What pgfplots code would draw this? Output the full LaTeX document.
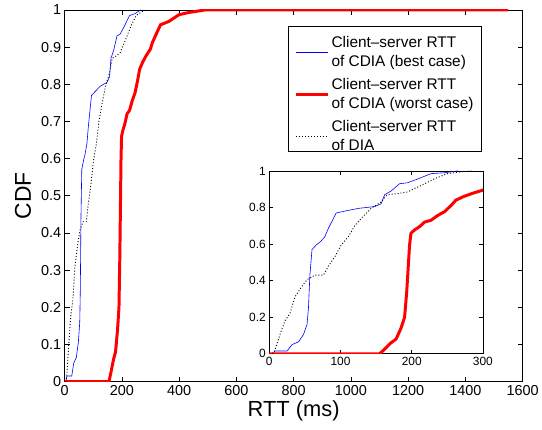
\documentclass[border=0pt]{standalone}
\usepackage{fontspec}
\setmainfont{Liberation Sans}
\usepackage{pgfplots}
\usepackage{pgfplotstable}
\pgfplotsset{compat=1.18}

\pgfplotstableread{
x y
0 0
5 0
8 0.015
25 0.015
32 0.05
41 0.065
48 0.105
53 0.16
55 0.25
57 0.43
60 0.57
66 0.595
71 0.61
78 0.64
83 0.686
90 0.74
94 0.77
106 0.78
125 0.795
148 0.805
157 0.82
162 0.87
171 0.89
183 0.93
194 0.935
208 0.955
227 0.985
246 0.99
265 1.0
}\bluedata

\pgfplotstableread{
x y
0 0
155 0
162 0.025
171 0.06
178 0.08
185 0.14
190 0.2
193 0.34
197 0.595
199 0.66
204 0.677
211 0.695
218 0.72
227 0.73
236 0.755
246 0.777
255 0.81
262 0.84
273 0.86
285 0.877
300 0.895
306 0.911
320 0.935
335 0.96
364 0.969
399 0.987
433 0.993
491 1.0
1550 1.0
}\reddata

\pgfplotstableread{
x y
4 0
8 0.02
15 0.105
22 0.18
29 0.22
36 0.31
46 0.37
53 0.405
64 0.43
76 0.43
83 0.48
92 0.53
101 0.595
111 0.64
120 0.70
129 0.74
143 0.795
157 0.83
166 0.87
180 0.876
194 0.885
213 0.92
232 0.957
250 0.985
269 0.995
285 1.0
}\diadata

\pgfplotsset{
  myax/.style={
    scale only axis,
    axis line style={black, line width=0.7pt},
    tick align=inside,
    tick style={black, line width=0.6pt},
    major tick length=5bp,
    /pgf/number format/assume math mode=true,
    /pgf/number format/1000 sep={},
    ymin=0, ymax=1,
  },
  bluestyle/.style={blue, line width=0.6bp},
  redstyle/.style={red, line width=3bp},
  diastyle/.style={black, line width=0.9bp, dash pattern=on 1bp off 2bp},
}

\begin{document}
\begin{tikzpicture}
\path (-65bp,-48bp) rectangle (477bp,384bp);
\begin{axis}[
  myax,
  width=461bp, height=374bp,
  xmin=0, xmax=1600,
  xtick={0,200,400,600,800,1000,1200,1400,1600},
  ytick={0,0.1,0.2,0.3,0.4,0.5,0.6,0.7,0.8,0.9,1},
  tick label style={font=\fontsize{14.5bp}{16bp}\selectfont},
  xlabel={RTT (ms)},
  ylabel={CDF},
  xlabel style={font=\fontsize{22bp}{24bp}\selectfont, at={(axis description cs:0.5,-0.080)}, anchor=center},
  ylabel style={font=\fontsize{23bp}{25bp}\selectfont, at={(axis description cs:-0.0905,0.5)}, anchor=center},
  legend cell align=left,
  legend image code/.code={\draw[#1] (0bp,-5.9bp) -- (32bp,-5.9bp);},
  legend style={
    at={(axis description cs:0.911,0.956)}, anchor=north east,
    draw=black, line width=0.7pt, fill=white,
    font=\fontsize{15.5bp}{17.7bp}\selectfont,
    row sep=14.6bp, inner xsep=6bp, inner ysep=6.5bp,
  },
]
\addplot[bluestyle] table[x=x,y=y] {\bluedata};
\addlegendentry{\begin{tabular}{@{}l@{}}Client--server RTT\\[1.9bp]of CDIA (best case)\end{tabular}}
\addplot[redstyle] table[x=x,y=y] {\reddata};
\addlegendentry{\begin{tabular}{@{}l@{}}Client--server RTT\\[1.9bp]of CDIA (worst case)\end{tabular}}
\addplot[diastyle] table[x=x,y=y] {\diadata};
\addlegendentry{\begin{tabular}{@{}l@{}}Client--server RTT\\[1.9bp]of DIA\end{tabular}}
\end{axis}
\begin{axis}[
  myax,
  at={(206bp,28bp)}, anchor=south west,
  width=215bp, height=184bp,
  xmin=0, xmax=300,
  xtick={0,100,200,300},
  ytick={0,0.2,0.4,0.6,0.8,1},
  major tick length=4bp,
  tick label style={font=\fontsize{12bp}{14bp}\selectfont},
  axis background/.style={fill=white},
]
\addplot[bluestyle] table[x=x,y=y] {\bluedata};
\addplot[redstyle] table[x=x,y=y] {\reddata};
\addplot[diastyle] table[x=x,y=y] {\diadata};
\end{axis}
\end{tikzpicture}
\end{document}
